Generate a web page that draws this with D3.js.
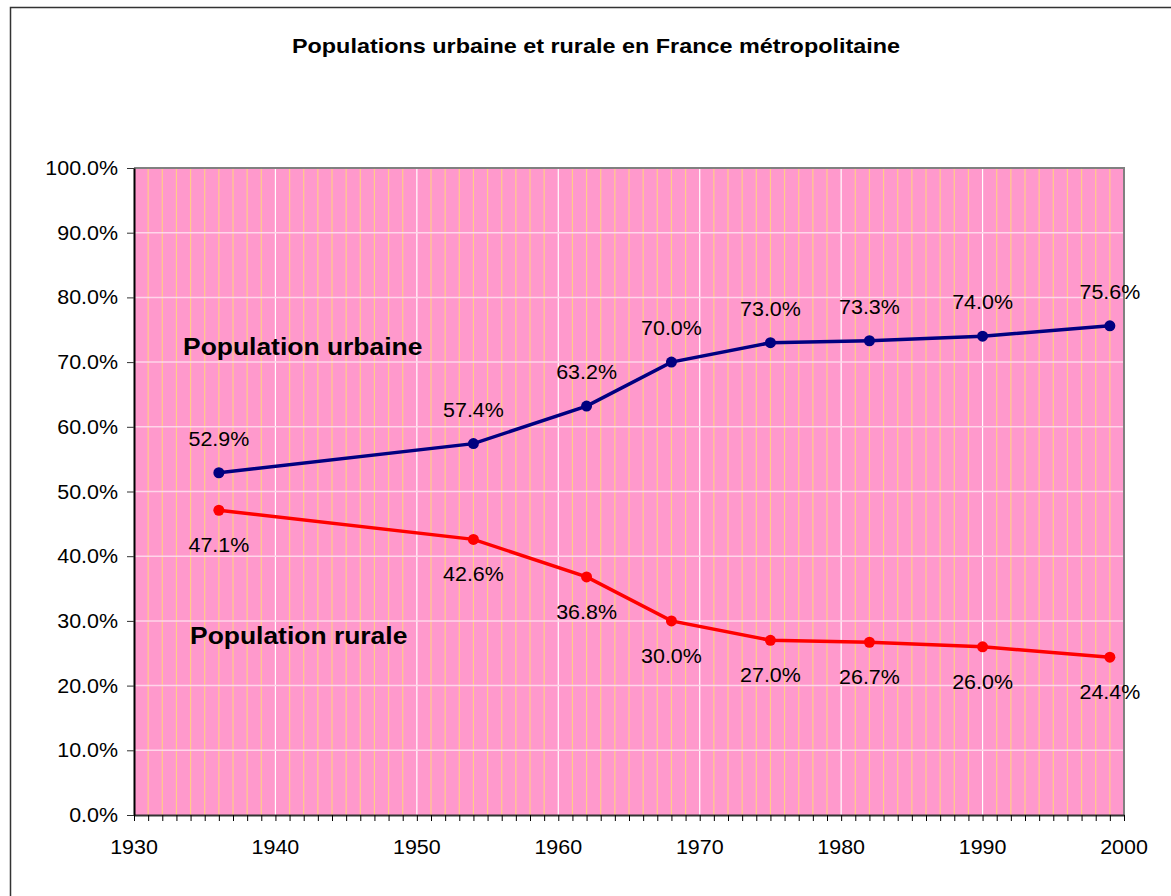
<!DOCTYPE html>
<html>
<head>
<meta charset="utf-8">
<script src="https://d3js.org/d3.v7.min.js"></script>
<style>
  body { margin: 0; background: #fff; }
  text { font-family: Arial, "Liberation Sans", sans-serif; }
</style>
</head>
<body>
<svg id="chart" width="1171" height="896"></svg>
<script>
// data
const years = [1936, 1954, 1962, 1968, 1975, 1982, 1990, 1999];
const urbaine = [52.9, 57.4, 63.2, 70.0, 73.0, 73.3, 74.0, 75.6];
const rurale = [47.1, 42.6, 36.8, 30.0, 27.0, 26.7, 26.0, 24.4];
const xTicks = [1930, 1940, 1950, 1960, 1970, 1980, 1990, 2000];
const yTicks = [0, 10, 20, 30, 40, 50, 60, 70, 80, 90, 100];

const svg = d3.select("#chart");
const plotLeft = 134, plotRight = 1124, plotTop = 168, plotBottom = 815;

const x = d3.scaleLinear().domain([1930, 2000]).range([plotLeft, plotRight]);
const y = d3.scaleLinear().domain([0, 100]).range([plotBottom, plotTop]);

// text helper: glyphs in the original are a bit wide, so stretch horizontally
function label(parent, tx, ty, str, size, anchor, bold, stretch) {
  return parent.append("text")
     .attr("transform", `translate(${tx},${ty}) scale(${stretch || 1.1},1)`)
     .attr("text-anchor", anchor || "start")
     .attr("font-size", size)
     .attr("font-weight", bold ? "bold" : "normal")
     .attr("fill", "#000")
     .text(str);
}

// outer frame
svg.append("rect").attr("x", 10.5).attr("y", 7.5).attr("width", 1180).attr("height", 900)
   .attr("fill", "none").attr("stroke", "#333").attr("stroke-width", 1.5);

// title
label(svg, 596, 53, "Populations urbaine et rurale en France métropolitaine", 20, "middle", true, 1.17);

// plot background
svg.append("rect").attr("x", plotLeft).attr("y", plotTop)
   .attr("width", plotRight - plotLeft).attr("height", plotBottom - plotTop)
   .attr("fill", "#ff99cc");

// yearly gridlines
const allYears = d3.range(1931, 2000);
svg.append("g").selectAll("line").data(allYears).join("line")
   .attr("x1", d => x(d)).attr("x2", d => x(d)).attr("y1", plotTop).attr("y2", plotBottom)
   .attr("stroke", d => d % 10 === 0 ? "#ffffff" : "#ffcc88").attr("stroke-width", 1.2);

// horizontal gridlines
svg.append("g").selectAll("line").data(yTicks.slice(1, -1)).join("line")
   .attr("x1", plotLeft).attr("x2", plotRight).attr("y1", d => y(d)).attr("y2", d => y(d))
   .attr("stroke", "#ffd6ea").attr("stroke-width", 1.5);

// top and right border
svg.append("path").attr("d", `M${plotLeft},${plotTop}H${plotRight}V${plotBottom}`)
   .attr("fill", "none").attr("stroke", "#808080").attr("stroke-width", 2);

// x axis
const xAxis = svg.append("g").attr("transform", `translate(0,${plotBottom})`)
   .call(d3.axisBottom(x).tickValues(d3.range(1930, 2001)).tickSize(6).tickSizeOuter(0).tickFormat(""));
xAxis.select(".domain").attr("stroke", "#333").attr("stroke-width", 2);
xAxis.selectAll(".tick line").attr("stroke", "#000");
const xLabels = svg.append("g");
xTicks.forEach(t => label(xLabels, x(t), plotBottom + 39, t, 19.5, "middle"));

// y axis
const yAxis = svg.append("g").attr("transform", `translate(${plotLeft},0)`)
   .call(d3.axisLeft(y).tickValues(yTicks).tickSize(7).tickSizeOuter(0).tickFormat(""));
yAxis.select(".domain").attr("stroke", "#000").attr("stroke-width", 2);
yAxis.selectAll(".tick line").attr("stroke", "#333");
const yLabels = svg.append("g");
yTicks.forEach(t => label(yLabels, plotLeft - 16, y(t) + 7, t.toFixed(1) + "%", 19.5, "end"));

// series
const series = [
  { values: urbaine, color: "#000080", dy: -27 },
  { values: rurale, color: "#ff0000", dy: 42 }
];
const line = d3.line().x((d, i) => x(years[i])).y(d => y(d));
series.forEach(s => {
  svg.append("path").datum(s.values).attr("d", line)
     .attr("fill", "none").attr("stroke", s.color).attr("stroke-width", 3.5);
  svg.append("g").selectAll("circle").data(s.values).join("circle")
     .attr("cx", (d, i) => x(years[i])).attr("cy", d => y(d)).attr("r", 5.5)
     .attr("fill", s.color);
  const g = svg.append("g");
  s.values.forEach((v, i) => label(g, x(years[i]), y(v) + s.dy, v.toFixed(1) + "%", 19.5, "middle"));
});

// series labels
label(svg, 183, 355, "Population urbaine", 23, "start", true, 1.15);
label(svg, 190, 644, "Population rurale", 23, "start", true, 1.15);
</script>
</body>
</html>
